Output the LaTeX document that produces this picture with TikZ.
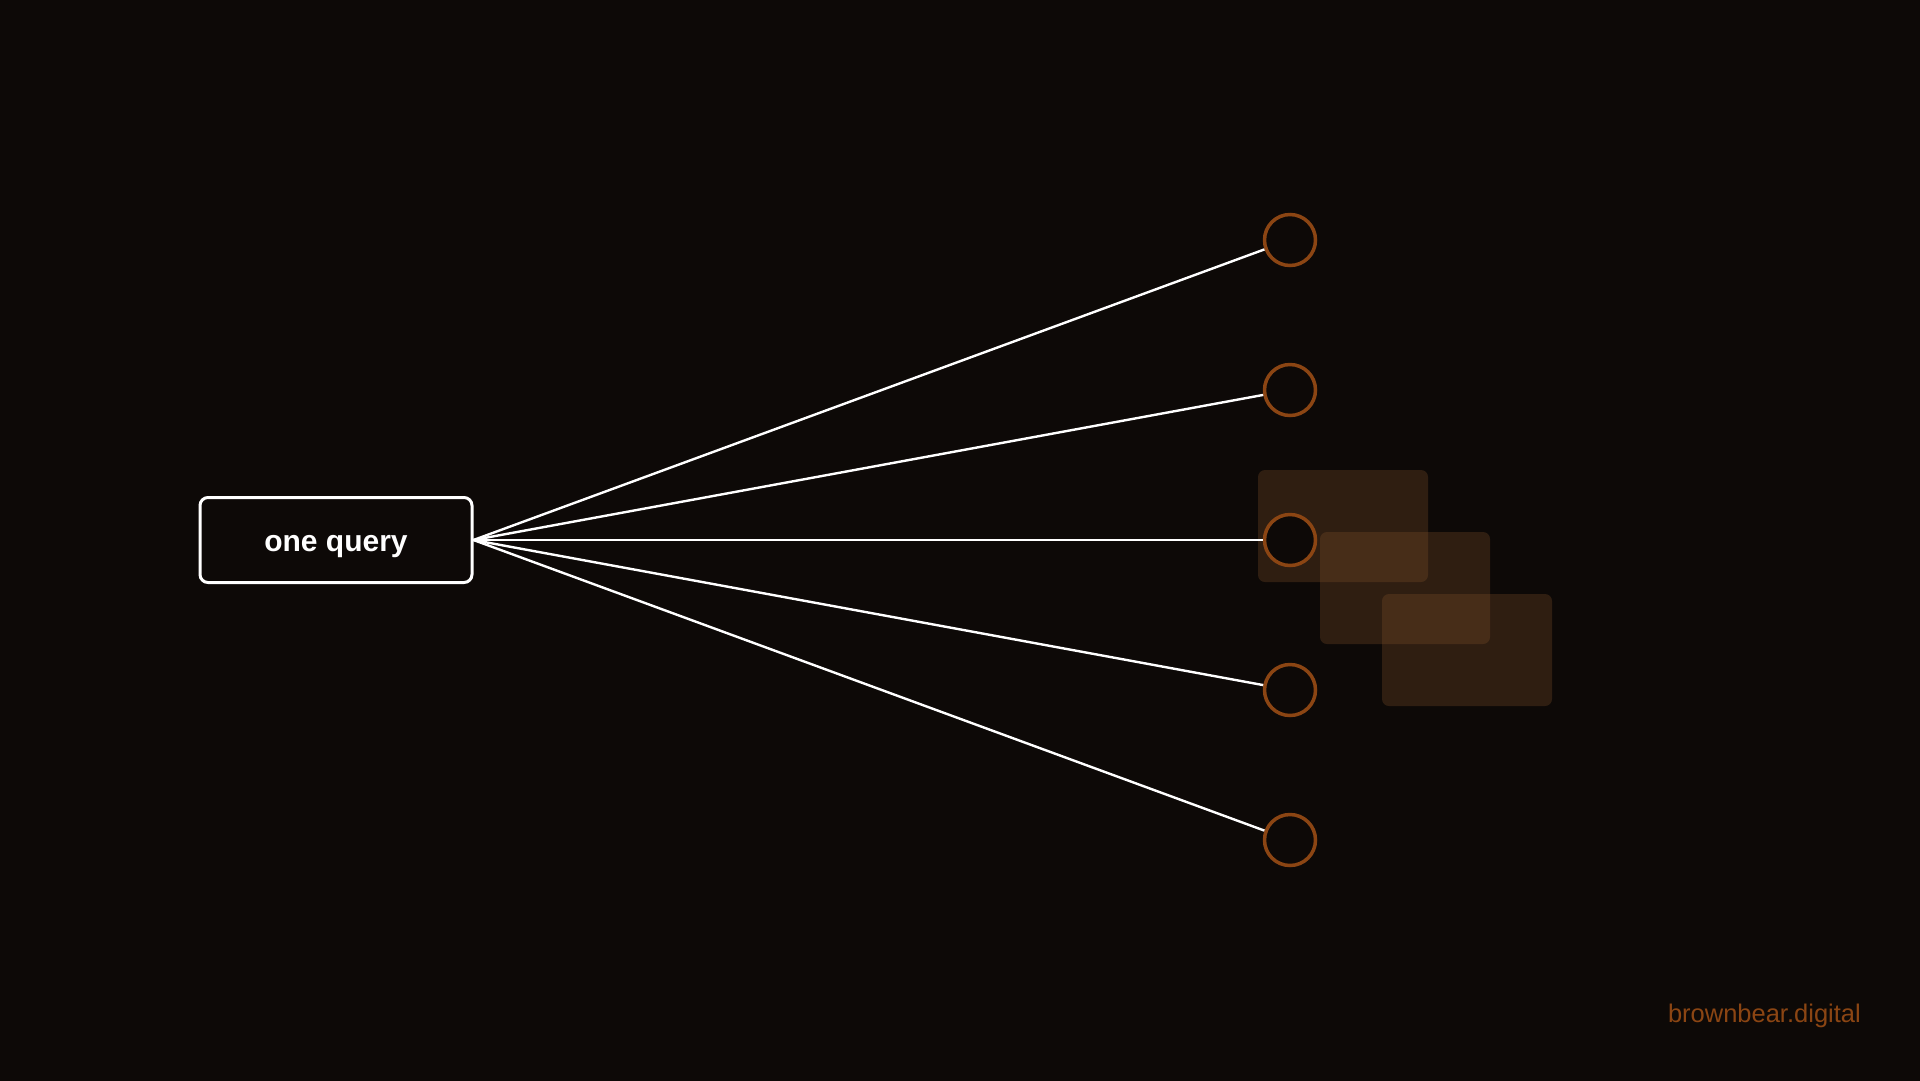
\documentclass[tikz,border=0pt]{standalone}
\usepackage{fontspec}
\setmainfont{Liberation Sans}
\definecolor{bg}{RGB}{13,9,7}
\definecolor{rust}{RGB}{139,69,19}
\definecolor{tint}{RGB}{139,88,45}
\begin{document}
\begin{tikzpicture}[x=1pt,y=-1pt,
  querybox/.style={draw=white,line width=3pt,fill=bg,rounded corners=8pt,
    minimum width=272pt,minimum height=85pt,inner sep=0pt,text=white,
    text height=22pt,text depth=0pt,
    font=\fontsize{30}{36}\selectfont\bfseries},
  target/.style={circle,draw=rust,line width=3.5pt,fill=bg,minimum size=51pt,inner sep=0pt},
  ray/.style={draw=white,line width=2.4pt},
  ghost/.style={fill=tint,fill opacity=0.27,rounded corners=7pt},
  brand/.style={text=rust,font=\fontsize{25.5}{30}\selectfont,inner sep=0pt}]
\useasboundingbox (0,0) rectangle (1920,1080);
\fill[bg] (-20,-20) rectangle (1940,1100);
\fill[ghost] (1258,470) rectangle (1428,582);
\fill[ghost] (1320,532) rectangle (1490,644);
\fill[ghost] (1382,594) rectangle (1552,706);
\node[querybox] (q) at (336,540) {one query};
\node[target] (c1) at (1290,240) {};
\node[target] (c2) at (1290,390) {};
\node[target] (c3) at (1290,540) {};
\node[target] (c4) at (1290,690) {};
\node[target] (c5) at (1290,840) {};
\foreach \i in {1,...,5} \draw[ray] (q.east) -- (c\i);
\node[brand,anchor=base east] (b) at (1861,1022) {brownbear.digital};
\end{tikzpicture}
\end{document}
